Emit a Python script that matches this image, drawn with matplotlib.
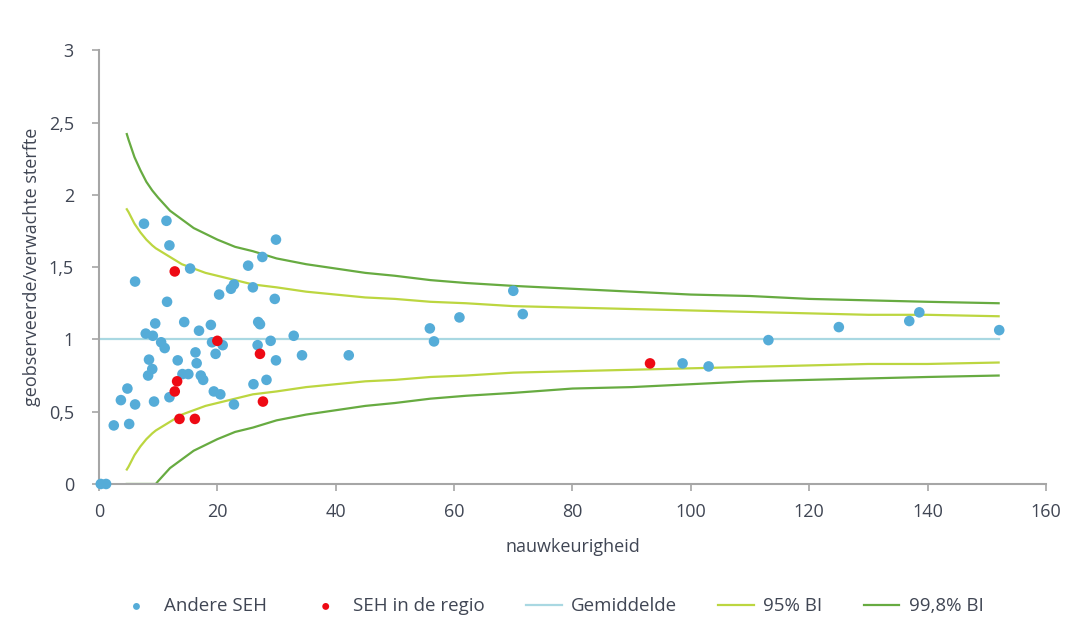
import matplotlib
matplotlib.use('Agg')
import matplotlib.pyplot as plt
from matplotlib.ticker import FuncFormatter

# andere SEH (x = nauwkeurigheid, y = geobserveerde/verwachte sterfte)
andere_x = [7.6, 11.4, 11.9, 15.4, 6.1, 11.5, 9.5, 14.4, 7.9, 9.1, 16.9, 18.9,
            10.5, 11.1, 19.1, 20.9, 19.7, 16.3, 13.3, 8.45, 9.0, 8.3, 16.5, 14.1,
            15.1, 17.2, 17.6, 11.9, 9.3, 4.8, 3.7, 6.1, 19.4, 20.5, 22.8, 2.5,
            5.1, 20.3, 22.3, 22.8, 25.2, 27.6, 29.9, 26.0, 29.7, 26.9, 27.2, 29.0,
            32.9, 26.8, 29.9, 34.3, 28.3, 26.1, 42.2, 55.9, 56.6, 60.9, 70.0, 71.6,
            98.6, 103.0, 113.1, 125.0, 136.9, 138.6, 152.1, 0.3, 1.2]
andere_y = [1.80, 1.82, 1.65, 1.49, 1.40, 1.26, 1.11, 1.12, 1.04, 1.025, 1.06, 1.10,
            0.98, 0.94, 0.98, 0.96, 0.90, 0.91, 0.855, 0.86, 0.795, 0.75, 0.835, 0.76,
            0.76, 0.75, 0.72, 0.60, 0.57, 0.66, 0.58, 0.55, 0.64, 0.62, 0.55, 0.405,
            0.415, 1.31, 1.35, 1.38, 1.51, 1.57, 1.69, 1.36, 1.28, 1.12, 1.105, 0.99,
            1.025, 0.96, 0.855, 0.89, 0.72, 0.69, 0.89, 1.076, 0.986, 1.152, 1.336, 1.175,
            0.834, 0.813, 0.995, 1.085, 1.127, 1.187, 1.064, 0.0, 0.0]

# SEH in de regio
regio_x = [12.8, 20.0, 27.2, 13.2, 12.8, 27.7, 13.6, 16.2, 93.1]
regio_y = [1.47, 0.99, 0.90, 0.71, 0.64, 0.57, 0.45, 0.45, 0.834]

# gemiddelde
gem_x = [0, 152]
gem_y = [1, 1]

bi_x = [4.7, 5, 6, 7, 8, 9, 9.6, 10, 12, 14, 16, 18, 20, 23, 26, 30, 35, 40, 45,
        50, 56, 62, 70, 80, 90, 100, 110, 120, 130, 140, 152]
bi95_hoog = [1.90, 1.88, 1.80, 1.74, 1.69, 1.65, 1.63, 1.62, 1.57, 1.52, 1.49, 1.46,
             1.44, 1.41, 1.38, 1.36, 1.33, 1.31, 1.29, 1.28, 1.26, 1.25, 1.23, 1.22,
             1.21, 1.20, 1.19, 1.18, 1.17, 1.17, 1.16]
bi95_laag = [0.10, 0.12, 0.20, 0.26, 0.31, 0.35, 0.37, 0.38, 0.43, 0.48, 0.51, 0.54,
             0.56, 0.59, 0.62, 0.64, 0.67, 0.69, 0.71, 0.72, 0.74, 0.75, 0.77, 0.78,
             0.79, 0.80, 0.81, 0.82, 0.83, 0.83, 0.84]
bi998_hoog = [2.42, 2.38, 2.26, 2.17, 2.09, 2.03, 2.00, 1.98, 1.89, 1.83, 1.77, 1.73,
              1.69, 1.64, 1.61, 1.56, 1.52, 1.49, 1.46, 1.44, 1.41, 1.39, 1.37, 1.35,
              1.33, 1.31, 1.30, 1.28, 1.27, 1.26, 1.25]
bi998_laag = [0, 0, 0, 0, 0, 0, 0, 0.02, 0.11, 0.17, 0.23, 0.27,
              0.31, 0.36, 0.39, 0.44, 0.48, 0.51, 0.54, 0.56, 0.59, 0.61, 0.63, 0.66,
              0.67, 0.69, 0.71, 0.72, 0.73, 0.74, 0.75]

plt.rcParams['font.family'] = ['Open Sans', 'DejaVu Sans']
tekst = '#404654'

fig = plt.figure(figsize=(10.89, 6.2), dpi=100)
ax = fig.add_axes([0.0909, 0.2194, 0.8696, 0.6996])

lw = 1.6
ax.plot(gem_x, gem_y, color='#a9d8e2', lw=lw, label='Gemiddelde', zorder=2)
ax.plot(bi_x, bi95_hoog, color='#bcd640', lw=lw, label='95% BI', zorder=2)
ax.plot(bi_x, bi95_laag, color='#bcd640', lw=lw, zorder=2)
ax.plot(bi_x, bi998_hoog, color='#67ab41', lw=lw, label='99,8% BI', zorder=2)
ax.plot(bi_x, bi998_laag, color='#67ab41', lw=lw, zorder=2)

ax.scatter(andere_x, andere_y, s=58, color='#55acd8', edgecolors='none',
           label='Andere SEH', zorder=3, clip_on=False)
ax.scatter(regio_x, regio_y, s=58, color='#ee0a14', edgecolors='none',
           label='SEH in de regio', zorder=4, clip_on=False)

ax.set_xlim(0, 160)
ax.set_ylim(0, 3)
ax.set_xticks(range(0, 161, 20))
ax.set_yticks([0, 0.5, 1, 1.5, 2, 2.5, 3])


def komma(v, pos):
    if v == int(v):
        return str(int(v))
    return ('%g' % v).replace('.', ',')


ax.yaxis.set_major_formatter(FuncFormatter(komma))

for s in ['top', 'right']:
    ax.spines[s].set_visible(False)
for s in ['left', 'bottom']:
    ax.spines[s].set_color('#a6a6a6')
    ax.spines[s].set_linewidth(1.5)
ax.tick_params(colors='#a6a6a6', length=5, width=1.2, labelcolor=tekst,
               labelsize=13)
ax.tick_params(axis='x', pad=9)
ax.tick_params(axis='y', pad=13)

ax.set_xlabel('nauwkeurigheid', fontsize=13, color=tekst, labelpad=12)
ax.set_ylabel('geobserveerde/verwachte sterfte', fontsize=13, color=tekst,
              labelpad=6)

handles, labels = ax.get_legend_handles_labels()
volgorde = ['Andere SEH', 'SEH in de regio', 'Gemiddelde', '95% BI', '99,8% BI']
h = [handles[labels.index(l)] for l in volgorde]
leg = fig.legend(h, volgorde, loc='center', bbox_to_anchor=(0.506, 0.022), ncol=5,
                 frameon=False, fontsize=13.5, handlelength=1.9, columnspacing=2.2,
                 handletextpad=0.5, markerscale=0.65)
for t in leg.get_texts():
    t.set_color(tekst)

fig.savefig('out.png', dpi=100)
